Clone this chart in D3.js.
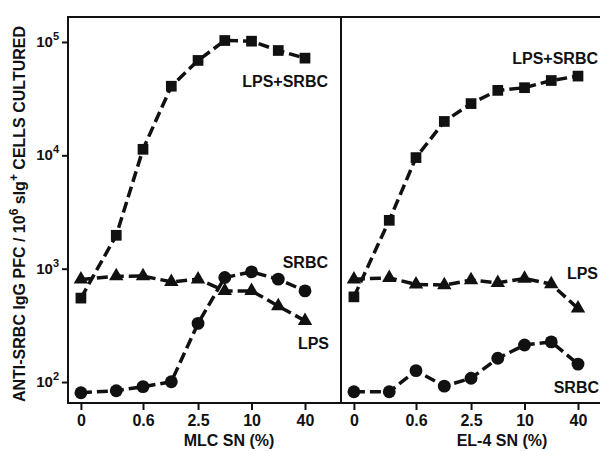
<!DOCTYPE html>
<html>
<head>
<meta charset="utf-8">
<script src="https://cdn.jsdelivr.net/npm/d3@7"></script>
<style>
  body { margin: 0; background: #fff; }
  svg { display: block; font-family: "Liberation Sans", Arial, sans-serif; font-weight: bold; }
</style>
</head>
<body>
<svg id="chart" width="603" height="451"></svg>
<script>
// DATA
const conc = [0, 0.3, 0.6, 1.25, 2.5, 5, 10, 20, 40];
const xTickValues = [0, 0.6, 2.5, 10, 40];
const yTickValues = [1e2, 1e3, 1e4, 1e5];

const mlcLpsSrbc = [550, 1970, 11300, 40700, 68700, 103000, 101600, 84100, 72000];
const mlcLps = [804, 859, 860, 765, 807, 637, 637, 468, 347];
const mlcSrbc = [80.5, 83.8, 91, 100.6, 329, 835, 937, 808, 637];

const el4LpsSrbc = [564, 2670, 9550, 19900, 28600, 37400, 39500, 45700, 50000];
const el4Lps = [807, 830, 726, 716, 793, 750, 819, 730, 446];
const el4Srbc = [82, 82, 126, 92, 108, 162, 212, 226, 144];

// zero sits on the log axis at a stand-in value
const ZERO_AT = 0.12;

const margin = { top: 17, left: 68, bottom: 403, right: 600 };
const divider = 341;

const svg = d3.select("svg#chart");

// SCALES
const yScale = d3.scaleLog()
    .domain([Math.pow(10, 2 - 21 / 113.5), Math.pow(10, 5 + 25 / 113.5)])
    .range([margin.bottom, margin.top]);

const panels = [
    {
        x0: margin.left, title: "MLC SN (%)",
        series: [
            { values: mlcLpsSrbc, shape: d3.symbolSquare, size: 115, label: "LPS+SRBC", lx: 328, ly: 87 },
            { values: mlcLps, shape: d3.symbolTriangle, size: 90, label: "LPS", lx: 329, ly: 349 },
            { values: mlcSrbc, shape: d3.symbolCircle, size: 130, label: "SRBC", lx: 328, ly: 268 }
        ]
    },
    {
        x0: divider, title: "EL-4 SN (%)",
        series: [
            { values: el4LpsSrbc, shape: d3.symbolSquare, size: 115, label: "LPS+SRBC", lx: 598, ly: 64 },
            { values: el4Lps, shape: d3.symbolTriangle, size: 90, label: "LPS", lx: 598, ly: 279 },
            { values: el4Srbc, shape: d3.symbolCircle, size: 130, label: "SRBC", lx: 599, ly: 393 }
        ]
    }
];

// FRAME
const frame = svg.append("g").attr("stroke", "#111").attr("stroke-width", 2).attr("fill", "none");
frame.append("path")
    .attr("d", `M${margin.right},${margin.top}H${margin.left}V${margin.bottom}H${margin.right}`);
frame.append("line")
    .attr("x1", divider).attr("x2", divider)
    .attr("y1", margin.top).attr("y2", margin.bottom);

// Y AXIS
const yAxis = svg.append("g")
    .attr("transform", `translate(${margin.left},0)`)
    .call(d3.axisLeft(yScale).tickValues(yTickValues).tickFormat("").tickSize(6));
yAxis.select(".domain").remove();
yAxis.selectAll(".tick line").attr("stroke", "#111").attr("stroke-width", 2);
yAxis.selectAll(".tick").append("text")
    .attr("x", -9).attr("dy", "0.3em")
    .attr("text-anchor", "end")
    .attr("fill", "#111")
    .style("font-size", "15px")
    .call(t => {
        t.append("tspan").text("10");
        t.append("tspan").attr("dy", -7).style("font-size", "11px")
            .text(d => Math.round(Math.log10(d)));
    });

svg.append("text")
    .attr("transform", `translate(25,${(margin.top + margin.bottom) / 2 + 4}) rotate(-90)`)
    .attr("text-anchor", "middle")
    .attr("fill", "#111")
    .style("font-size", "16px")
    .call(t => {
        t.append("tspan").text("ANTI-SRBC IgG PFC / 10");
        t.append("tspan").attr("dy", -7).style("font-size", "12px").text("6");
        t.append("tspan").attr("dy", 7).text(" sIg");
        t.append("tspan").attr("dy", -7).style("font-size", "12px").text("+");
        t.append("tspan").attr("dy", 7).text(" CELLS CULTURED");
    });

// PANELS
panels.forEach(p => {
    const xScale = d3.scaleLog()
        .domain([0.6, 40])
        .range([p.x0 + 75, p.x0 + 237]);
    const xOf = v => xScale(v === 0 ? ZERO_AT : v);

    const xAxis = svg.append("g")
        .attr("transform", `translate(0,${margin.bottom})`)
        .call(d3.axisBottom(xScale)
            .tickValues(xTickValues.map(v => v === 0 ? ZERO_AT : v))
            .tickFormat(v => v === ZERO_AT ? "0" : String(v))
            .tickSize(7).tickPadding(5));
    xAxis.select(".domain").remove();
    xAxis.selectAll(".tick line").attr("stroke", "#111").attr("stroke-width", 2);
    xAxis.selectAll(".tick text")
        .attr("fill", "#111")
        .style("font-size", "16px")
        .style("font-family", "'Liberation Sans', Arial, sans-serif");

    svg.append("text")
        .attr("x", (xScale(0.6) + xScale(40)) / 2 + 5)
        .attr("y", 446)
        .attr("text-anchor", "middle")
        .attr("fill", "#111")
        .style("font-size", "16px")
        .text(p.title);

    const line = d3.line()
        .x((d, i) => xOf(conc[i]))
        .y(d => yScale(d));

    p.series.forEach(s => {
        svg.append("path")
            .datum(s.values)
            .attr("d", line)
            .attr("fill", "none")
            .attr("stroke", "#111")
            .attr("stroke-width", 3.5)
            .attr("stroke-dasharray", "11,5");

        svg.append("g").attr("fill", "#111")
            .selectAll("path")
            .data(s.values)
            .join("path")
            .attr("transform", (d, i) => `translate(${xOf(conc[i])},${yScale(d)})`)
            .attr("d", d3.symbol().type(s.shape).size(s.size));

        svg.append("text")
            .attr("x", s.lx).attr("y", s.ly)
            .attr("text-anchor", "end")
            .attr("fill", "#111")
            .style("font-size", "16px")
            .text(s.label);
    });
});
</script>
</body>
</html>
